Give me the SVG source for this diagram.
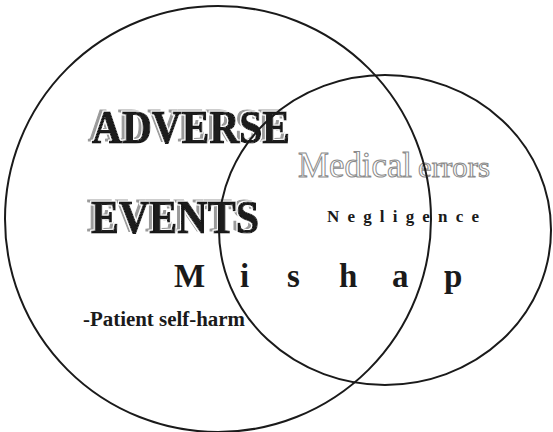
<svg xmlns="http://www.w3.org/2000/svg" width="553" height="432" viewBox="0 0 553 432">
<style>
.ring{fill:none;stroke:#1a1a1a;stroke-width:2}
.big{font-family:"Liberation Serif",serif;font-weight:bold;font-size:46px;fill:#1a1a1a;stroke:#1a1a1a;stroke-width:1.2;filter:url(#emboss)}
.outl{font-family:"Liberation Serif",serif;fill:#fff;stroke:#8a8a8a;stroke-width:1}
.bs{font-family:"Liberation Serif",serif;font-weight:bold;fill:#1a1a1a}
</style>
<defs>
<filter id="emboss" x="-10%" y="-30%" width="120%" height="160%">
<feOffset in="SourceAlpha" dx="-4" dy="-2" result="off"/>
<feFlood flood-color="#9a9a9a"/>
<feComposite in2="off" operator="in" result="shadow"/>
<feMorphology in="SourceAlpha" operator="dilate" radius="1.2" result="halo"/>
<feFlood flood-color="#ffffff"/>
<feComposite in2="halo" operator="in" result="white"/>
<feMerge><feMergeNode in="shadow"/><feMergeNode in="white"/><feMergeNode in="SourceGraphic"/></feMerge>
</filter>
</defs>
<rect width="553" height="432" fill="#fff"/>
<g id="adverse-events-label">
<text class="big" x="92" y="143" textLength="198" lengthAdjust="spacingAndGlyphs">ADVERSE</text>
<text class="big" x="91" y="233" textLength="168" lengthAdjust="spacingAndGlyphs">EVENTS</text>
</g>
<g id="medical-errors-label">
<text class="outl" x="298" y="177" font-size="35" textLength="114" lengthAdjust="spacingAndGlyphs">Medical</text>
<text class="outl" x="418" y="177" font-size="29" textLength="72" lengthAdjust="spacingAndGlyphs">errors</text>
</g>
<g id="negligence-label">
<text class="bs" x="327" y="222" font-size="17" textLength="152" lengthAdjust="spacing">Negligence</text>
</g>
<g id="mishap-label">
<text class="bs" font-size="33" y="287" x="174 240 287 339 392 444">Mishap</text>
</g>
<g id="patient-self-harm-label">
<text class="bs" x="83" y="326" font-size="20" textLength="162" lengthAdjust="spacingAndGlyphs">-Patient self-harm</text>
</g>
<g id="adverse-events-set"><circle class="ring" cx="218" cy="219" r="213"/></g>
<g id="medical-errors-set"><ellipse class="ring" cx="385" cy="230" rx="166" ry="155"/></g>
<g id="connectors"></g>
</svg>
